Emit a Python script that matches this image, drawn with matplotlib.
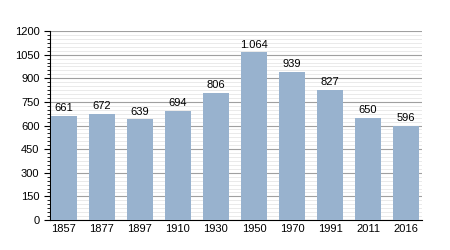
import numpy as np
import matplotlib.pyplot as plt
from matplotlib.ticker import MultipleLocator

years = ['1857', '1877', '1897', '1910', '1930', '1950', '1970', '1991', '2011', '2016']
population = [661, 672, 639, 694, 806, 1064, 939, 827, 650, 596]
labels = ['661', '672', '639', '694', '806', '1.064', '939', '827', '650', '596']

plt.rcParams['font.family'] = ['Liberation Sans', 'DejaVu Sans']

fig = plt.figure(figsize=(4.5, 2.5), dpi=100)
ax = fig.add_axes([0.111, 0.12, 0.827, 0.756])

x = np.arange(len(years))
bars = ax.bar(x, population, width=0.68, color='#98b2ce', zorder=3)
for b, lab in zip(bars, labels):
    ax.text(b.get_x() + b.get_width() / 2, b.get_height() + 18, lab,
            ha='center', va='bottom', fontsize=8, color='black', zorder=4)

ax.set_xlim(-0.36, 9.42)
ax.set_ylim(0, 1200)
ax.yaxis.set_major_locator(MultipleLocator(150))
ax.yaxis.set_minor_locator(MultipleLocator(25))
ax.grid(which='major', axis='y', color='#a0a0a0', linewidth=0.8, zorder=0)
ax.grid(which='minor', axis='y', color='#e2e2e2', linewidth=0.5, zorder=0)

ax.set_xticks(x)
ax.set_xticklabels(years)
ax.tick_params(axis='x', length=0, labelsize=8, pad=3)
ax.tick_params(axis='y', which='major', length=4, width=0.8, labelsize=8)
ax.tick_params(axis='y', which='minor', length=2, width=0.6)

for s in ['top', 'right']:
    ax.spines[s].set_visible(False)
ax.spines['left'].set_linewidth(0.8)
ax.spines['bottom'].set_linewidth(0.8)

fig.savefig('out.png', dpi=100)
